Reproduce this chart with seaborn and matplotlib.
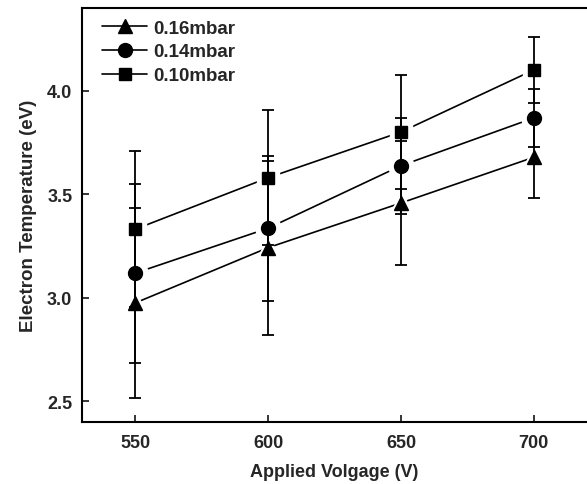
import numpy as np
import pandas as pd
import matplotlib
matplotlib.use("Agg")
import matplotlib.pyplot as plt
from matplotlib.lines import Line2D
import seaborn as sns

# données
voltage = [550, 600, 650, 700]
pressures = ["0.16mbar", "0.14mbar", "0.10mbar"]
te_016 = [2.975, 3.242, 3.458, 3.679]
te_014 = [3.119, 3.336, 3.638, 3.869]
te_010 = [3.331, 3.580, 3.801, 4.101]
err_016 = [0.46, 0.42, 0.30, 0.195]
err_014 = [0.432, 0.350, 0.231, 0.139]
err_010 = [0.377, 0.327, 0.276, 0.161]

markers = {"0.16mbar": "^", "0.14mbar": "o", "0.10mbar": "s"}
msizes = {"0.16mbar": 10, "0.14mbar": 10, "0.10mbar": 8.5}

df = pd.DataFrame({
    "V": voltage * 3,
    "Te": te_016 + te_014 + te_010,
    "err": err_016 + err_014 + err_010,
    "p": [p for p in pressures for _ in voltage],
})

sns.set_style("ticks")
plt.rcParams["font.family"] = ["Liberation Sans", "DejaVu Sans"]
plt.rcParams["font.weight"] = "bold"

fig = plt.figure(figsize=(5.87, 4.85), dpi=100)
ax = fig.add_axes([82 / 587, 62 / 485, 505 / 587, 414 / 485])

# lignes de liaison
sns.lineplot(data=df, x="V", y="Te", hue="p", hue_order=pressures,
             palette=["black"] * 3, linewidth=1.2, legend=False, ax=ax, zorder=1)

for p in pressures:
    sub = df[df["p"] == p]
    # fond blanc autour des marqueurs (interruption des lignes, style Origin)
    ax.plot(sub["V"], sub["Te"], ls="none", marker=markers[p],
            ms=msizes[p] + 8, color="white", zorder=2)
    ax.errorbar(sub["V"], sub["Te"], yerr=sub["err"], fmt="none",
                ecolor="black", elinewidth=1.3, capsize=4, capthick=1.3, zorder=3)
    ax.plot(sub["V"], sub["Te"], ls="none", marker=markers[p],
            ms=msizes[p], color="black", zorder=4)

ax.set_xlim(530, 720)
ax.set_ylim(2.4, 4.4)
ax.set_xticks([550, 600, 650, 700])
ax.set_yticks([2.5, 3.0, 3.5, 4.0])
ax.set_yticklabels(["2.5", "3.0", "3.5", "4.0"])
ax.tick_params(direction="in", length=5, width=1.3, labelsize=13, pad=7)
ax.tick_params(axis="x", pad=9)
for lab in ax.get_xticklabels() + ax.get_yticklabels():
    lab.set_fontweight("bold")
for side in ["left", "bottom", "top"]:
    ax.spines[side].set_linewidth(1.5)
    ax.spines[side].set_color("black")
ax.spines["right"].set_visible(False)

ax.set_xlabel("Applied Volgage (V)", fontsize=13, fontweight="bold", labelpad=8)
ax.set_ylabel("Electron Temperature (eV)", fontsize=13.5, fontweight="bold", labelpad=7)

handles = [Line2D([], [], color="black", lw=1.2, marker=markers[p], ms=msizes[p])
           for p in pressures]
ax.legend(handles, pressures, loc="upper left", frameon=False,
          handlelength=2.4, handletextpad=0.3, labelspacing=0.35,
          borderaxespad=0.2, borderpad=0.2, bbox_to_anchor=(0.025, 0.99),
          prop={"weight": "bold", "size": 13.5})

fig.savefig("out.png", dpi=100)
plt.close()
